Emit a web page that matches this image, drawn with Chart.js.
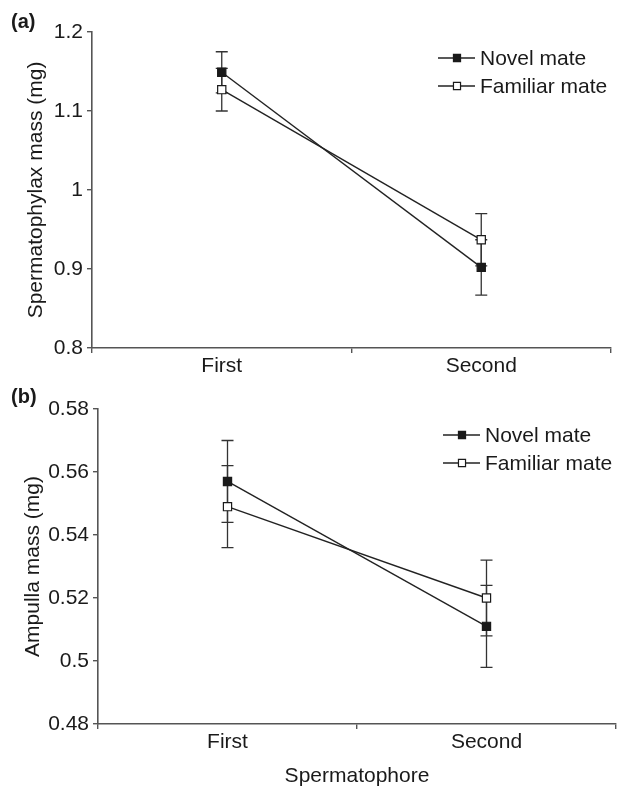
<!DOCTYPE html>
<html>
<head>
<meta charset="utf-8">
<script src="https://cdn.jsdelivr.net/npm/chart.js@4.4.1/dist/chart.umd.min.js"></script>
<style>
  body { margin: 0; background: #fff; }
  #wrap { position: relative; width: 623px; height: 786px; }
  .box { position: absolute; left: 0; width: 623px; }
  .tag { position: absolute; left: 11px; font: bold 20px "Liberation Sans", Arial, sans-serif; color: #1a1a1a; }
</style>
</head>
<body>
<div id="wrap">
  <div class="box" style="top:0;height:380px"><canvas id="chartA" width="623" height="380"></canvas></div>
  <div class="box" style="top:380px;height:406px"><canvas id="chartB" width="623" height="406"></canvas></div>
  <div class="tag" style="top:10px">(a)</div>
  <div class="tag" style="top:385px">(b)</div>
</div>
<script>
// data
const categories = ['First', 'Second'];
const seriesNames = ['Novel mate', 'Familiar mate'];

// (a) spermatophylax mass, mg (mean and SE)
const phylaxNovel = [1.149, 0.902];
const phylaxNovelSE = [0.026, 0.035];
const phylaxFamiliar = [1.127, 0.937];
const phylaxFamiliarSE = [0.027, 0.033];

// (b) ampulla mass, mg
const ampullaNovel = [0.557, 0.511];
const ampullaNovelSE = [0.013, 0.013];
const ampullaFamiliar = [0.549, 0.520];
const ampullaFamiliarSE = [0.013, 0.012];

Chart.defaults.font.family = "'Liberation Sans', Arial, sans-serif";
Chart.defaults.font.size = 21;
Chart.defaults.color = '#1a1a1a';

const AXIS = '#555';
const INK = '#222';

// vertical SE bars, drawn under the markers
const errorBars = {
    id: 'errorBars',
    beforeDatasetsDraw(chart) {
        const { ctx, scales: { y } } = chart;
        ctx.save();
        ctx.strokeStyle = '#333';
        ctx.lineWidth = 1.3;
        chart.data.datasets.forEach((ds, i) => {
            chart.getDatasetMeta(i).data.forEach((pt, j) => {
                const hi = y.getPixelForValue(ds.data[j] + ds.se[j]);
                const lo = y.getPixelForValue(ds.data[j] - ds.se[j]);
                ctx.beginPath();
                ctx.moveTo(pt.x, hi); ctx.lineTo(pt.x, lo);
                ctx.moveTo(pt.x - 6, hi); ctx.lineTo(pt.x + 6, hi);
                ctx.moveTo(pt.x - 6, lo); ctx.lineTo(pt.x + 6, lo);
                ctx.stroke();
            });
        });
        ctx.restore();
    }
};

// legend as in the figure: —■— Novel mate
const lineLegend = {
    id: 'lineLegend',
    afterDraw(chart) {
        const { ctx, chartArea } = chart;
        const x0 = chartArea.right - 173;
        ctx.save();
        chart.data.datasets.forEach((ds, i) => {
            const y = chartArea.top + 26 + i * 28;
            ctx.strokeStyle = INK;
            ctx.lineWidth = 1.4;
            ctx.beginPath();
            ctx.moveTo(x0, y); ctx.lineTo(x0 + 37, y);
            ctx.stroke();
            ctx.fillStyle = ds.pointBackgroundColor;
            ctx.strokeStyle = ds.pointBorderColor;
            ctx.lineWidth = 1.2;
            Chart.helpers.drawPoint(ctx, { pointStyle: 'rect', radius: 5, borderWidth: 1.2, rotation: 0 }, x0 + 19, y);
            ctx.fillStyle = '#1a1a1a';
            ctx.font = "21px 'Liberation Sans', Arial, sans-serif";
            ctx.textBaseline = 'middle';
            ctx.fillText(ds.label, x0 + 42, y + 1);
        });
        ctx.restore();
    }
};

function series(label, values, se, fill) {
    return {
        label: label,
        data: values,
        se: se,
        borderColor: INK,
        borderWidth: 1.4,
        tension: 0,
        pointStyle: 'rect',
        pointRadius: 5.8,
        pointHoverRadius: 5.8,
        pointBorderWidth: 1.2,
        pointBorderColor: '#1a1a1a',
        pointBackgroundColor: fill
    };
}

function panel(id, novel, novelSE, familiar, familiarSE, yMin, yMax, yStep, yTitle, xTitle, box) {
    return new Chart(document.getElementById(id), {
        type: 'line',
        data: {
            labels: categories,
            datasets: [
                series(seriesNames[0], novel, novelSE, '#1a1a1a'),
                series(seriesNames[1], familiar, familiarSE, '#fff')
            ]
        },
        options: {
            responsive: false,
            animation: false,
            layout: { padding: { left: 0, top: box.top, right: box.right, bottom: 0 } },
            plugins: { legend: { display: false }, tooltip: { enabled: false } },
            scales: {
                x: {
                    type: 'category',
                    offset: true,
                    grid: { offset: true, drawOnChartArea: false, tickLength: 5, color: AXIS, lineWidth: 1.4 },
                    border: { color: AXIS, width: 1.6 },
                    ticks: { padding: 1, color: '#1a1a1a' },
                    title: { display: !!xTitle, text: xTitle, padding: { top: 0, bottom: -3 }, color: '#1a1a1a' },
                    afterFit: s => { s.height = box.xh; }
                },
                y: {
                    min: yMin,
                    max: yMax,
                    grid: { drawOnChartArea: false, tickLength: 5, color: AXIS, lineWidth: 1.4 },
                    border: { color: AXIS, width: 1.6 },
                    ticks: { stepSize: yStep, padding: 4, color: '#1a1a1a', callback: v => String(+v.toFixed(2)) },
                    title: { display: true, text: yTitle, padding: { top: box.tp, bottom: 0 }, color: '#1a1a1a' },
                    afterFit: s => { s.width = box.yw; }
                }
            }
        },
        plugins: [errorBars, lineLegend]
    });
}

panel('chartA', phylaxNovel, phylaxNovelSE, phylaxFamiliar, phylaxFamiliarSE,
      0.8, 1.2, 0.1, 'Spermatophylax mass (mg)', '',
      { top: 32, right: 12, yw: 92, xh: 32, tp: 24 });

panel('chartB', ampullaNovel, ampullaNovelSE, ampullaFamiliar, ampullaFamiliarSE,
      0.48, 0.58, 0.02, 'Ampulla mass (mg)', 'Spermatophore',
      { top: 29, right: 4, yw: 98, xh: 62, tp: 21 });
</script>
</body>
</html>
